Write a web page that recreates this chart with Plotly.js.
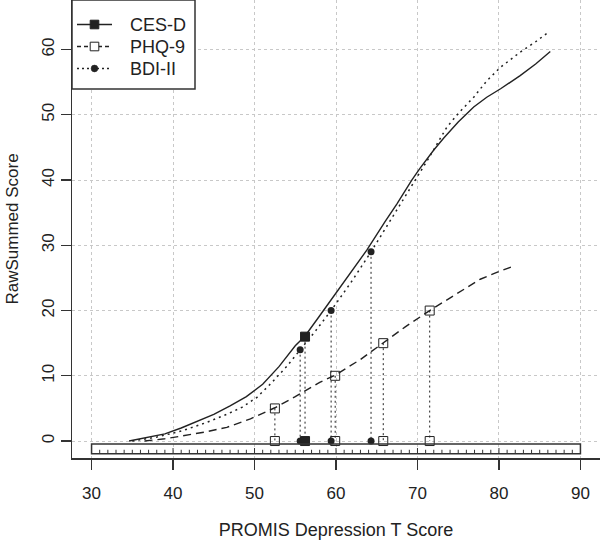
<!DOCTYPE html>
<html>
<head>
<meta charset="utf-8">
<script src="https://cdn.plot.ly/plotly-3.0.1.min.js"></script>
<style>
  html, body { margin: 0; padding: 0; background: #fff; }
  #chart { width: 600px; height: 547px; }
</style>
</head>
<body>
<div id="chart"></div>
<script>
// ---- Data ----
var cesdCurveX = [34.6, 37, 39, 41, 43, 45, 47, 49, 51, 53, 55, 56.2, 58, 60, 62, 63.8, 66, 67.5, 69.3, 70.3, 72, 73.2, 75, 76.9, 78.5, 80.2, 82.6, 84.5, 86.3];
var cesdCurveY = [0, 0.55, 1.1, 2.0, 3.0, 4.1, 5.4, 6.8, 8.7, 11.4, 14.6, 16.1, 19.2, 22.7, 26.3, 29.3, 33.6, 36.4, 40.0, 41.8, 44.6, 46.4, 48.9, 51.2, 52.7, 54.0, 56.0, 57.8, 59.7];

var phqCurveX = [36.5, 39, 41.2, 44, 46.6, 49.5, 52.5, 55, 58, 59.9, 63, 65.8, 68.5, 71.5, 74.9, 77.7, 80, 81.8];
var phqCurveY = [0, 0.35, 0.8, 1.4, 2.1, 3.4, 5.1, 6.8, 9.0, 10.1, 12.5, 15.1, 17.5, 20.0, 22.7, 24.8, 26.0, 26.8];

var bdiCurveX = [35, 38, 41.2, 44, 46.6, 48.5, 50.3, 52, 54, 55.6, 57.5, 59.4, 62, 64.3, 67, 69.7, 71.5, 73.6, 75, 76.9, 78.5, 80.2, 82.6, 84.5, 85.9];
var bdiCurveY = [0, 0.6, 1.6, 2.8, 4.1, 5.2, 6.7, 8.8, 11.5, 13.9, 16.9, 20.0, 24.6, 29.0, 34.5, 40.0, 43.6, 48.1, 50.2, 52.7, 55.2, 57.3, 59.6, 61.2, 62.5];

// marked cut points (raw score vs T score)
var cesdMarkX = [56.2];
var cesdMarkY = [16];
var phqMarkX = [52.5, 59.9, 65.8, 71.5];
var phqMarkY = [5, 10, 15, 20];
var bdiMarkX = [55.6, 59.4, 64.3];
var bdiMarkY = [14, 20, 29];

var seriesNames = ['CES-D', 'PHQ-9', 'BDI-II'];
var xTicks = [30, 40, 50, 60, 70, 80, 90];
var yTicks = [0, 10, 20, 30, 40, 50, 60];

// ---- helpers ----
function dropLines(xs, ys) {
  var x = [], y = [];
  for (var i = 0; i < xs.length; i++) {
    x.push(xs[i], xs[i], null);
    y.push(ys[i], 0, null);
  }
  return {x: x, y: y};
}

var INK = '#222';
var LINE = '#333';
var FONT = 'Liberation Sans, Arial, sans-serif';

var M = {l: 72, r: 0, t: 0, b: 89};
var W = 600, H = 547;
var PW = W - M.l - M.r, PH = H - M.t - M.b;
function px2x(px) { return (px - M.l) / PW; }
function py2y(py) { return 1 - (py - M.t) / PH; }

var cesdDrop = dropLines(cesdMarkX, cesdMarkY);
var phqDrop = dropLines(phqMarkX, phqMarkY);
var bdiDrop = dropLines(bdiMarkX, bdiMarkY);

var sqFilled = {symbol: 'square', size: 9, color: INK, line: {color: INK, width: 1}};
var sqOpen = {symbol: 'square-open', size: 9, color: INK, line: {color: INK, width: 1}};
var circ = {symbol: 'circle', size: 7, color: INK, line: {color: INK, width: 0}};

// ruler ticks inside the bottom bar (decorative scale)
var rulerBottom = -1.94, rulerTop = -0.46;
var rx = [], ry = [];
for (var t = xTicks[0] + 1; t < xTicks[xTicks.length - 1]; t++) {
  var major = (t % 10 === 0);
  rx.push(t, t, null);
  ry.push(rulerBottom, rulerBottom + (major ? 0.87 : 0.6), null);
}

var traces = [
  {x: phqDrop.x, y: phqDrop.y, mode: 'lines', line: {color: INK, width: 1, dash: '2px,3px'}, showlegend: false, hoverinfo: 'skip'},
  {x: bdiDrop.x, y: bdiDrop.y, mode: 'lines', line: {color: INK, width: 1, dash: '2px,3px'}, showlegend: false, hoverinfo: 'skip'},
  {x: cesdDrop.x, y: cesdDrop.y, mode: 'lines', line: {color: INK, width: 1, dash: '2px,3px'}, showlegend: false, hoverinfo: 'skip'},
  {x: cesdCurveX, y: cesdCurveY, name: seriesNames[0], mode: 'lines', line: {color: INK, width: 1.4}, showlegend: false},
  {x: phqCurveX, y: phqCurveY, name: seriesNames[1], mode: 'lines', line: {color: INK, width: 1.4, dash: '8px,5px'}, showlegend: false},
  {x: bdiCurveX, y: bdiCurveY, name: seriesNames[2], mode: 'lines', line: {color: INK, width: 1.5, dash: '2px,4px'}, showlegend: false},
  {x: rx, y: ry, mode: 'lines', line: {color: LINE, width: 1}, showlegend: false, hoverinfo: 'skip'},
  {x: phqDrop.x, y: phqDrop.y, mode: 'markers', marker: sqOpen, showlegend: false},
  {x: bdiDrop.x, y: bdiDrop.y, mode: 'markers', marker: circ, showlegend: false},
  {x: cesdDrop.x, y: cesdDrop.y, mode: 'markers', marker: sqFilled, showlegend: false}
];

// ---- legend box drawn at the top-left corner (R style) ----
var legRows = [24.5, 46.5, 68.5];
var legDash = ['solid', '4px,3px', '2px,3px'];
var legSym = ['sqFilled', 'sqOpen', 'circ'];
var shapes = [
  {type: 'rect', xref: 'x', yref: 'y', x0: xTicks[0], x1: xTicks[xTicks.length - 1], y0: rulerBottom, y1: rulerTop,
   line: {color: LINE, width: 1.5}, fillcolor: 'rgba(0,0,0,0)', layer: 'above'},
  {type: 'rect', xref: 'paper', yref: 'paper', x0: px2x(72), x1: px2x(195), y0: py2y(89), y1: py2y(0),
   line: {color: LINE, width: 1.5}, fillcolor: '#fff', layer: 'above'}
];
var annotations = [];
for (var i = 0; i < seriesNames.length; i++) {
  var ry0 = legRows[i];
  shapes.push({type: 'line', xref: 'paper', yref: 'paper', x0: px2x(77), x1: px2x(112), y0: py2y(ry0), y1: py2y(ry0),
               line: {color: INK, width: 1.4, dash: legDash[i]}, layer: 'above'});
  var cx = 94.5;
  if (legSym[i] === 'circ') {
    shapes.push({type: 'circle', xref: 'paper', yref: 'paper', x0: px2x(cx - 3.4), x1: px2x(cx + 3.4), y0: py2y(ry0 + 3.4), y1: py2y(ry0 - 3.4),
                 line: {color: INK, width: 0.5}, fillcolor: INK, layer: 'above'});
  } else {
    shapes.push({type: 'rect', xref: 'paper', yref: 'paper', x0: px2x(cx - 4.3), x1: px2x(cx + 4.3), y0: py2y(ry0 + 4.3), y1: py2y(ry0 - 4.3),
                 line: {color: INK, width: 1}, fillcolor: legSym[i] === 'sqFilled' ? INK : '#fff', layer: 'above'});
  }
  annotations.push({xref: 'paper', yref: 'paper', x: px2x(128), y: py2y(ry0 + 0.5), xanchor: 'left', yanchor: 'middle',
                    text: seriesNames[i], showarrow: false, font: {family: FONT, size: 18, color: INK}});
}

var axisCommon = {
  showline: true, linecolor: LINE, linewidth: 1.5, mirror: true,
  ticks: 'outside', ticklen: 10, tickwidth: 1.3, tickcolor: LINE,
  showgrid: true, gridcolor: '#c8c8c8', gridwidth: 1, griddash: 'dot',
  zeroline: false, tickfont: {family: FONT, size: 17, color: INK},
  automargin: false
};

var layout = {
  width: W, height: H,
  margin: M,
  paper_bgcolor: '#fff', plot_bgcolor: '#fff',
  font: {family: FONT, size: 17, color: INK},
  xaxis: Object.assign({}, axisCommon, {
    range: [27.6, 92.4], tickvals: xTicks, ticktext: xTicks.map(String),
    ticklabelstandoff: 9,
    title: {text: 'PROMIS Depression T Score', font: {size: 18, color: INK}, standoff: 21}
  }),
  yaxis: Object.assign({}, axisCommon, {
    range: [-2.6, 67.6], tickvals: yTicks, ticktext: yTicks.map(String),
    tickangle: -90, ticklabelstandoff: 0,
    title: {text: 'RawSummed Score', font: {size: 17, color: INK}, standoff: 16}
  }),
  shapes: shapes,
  annotations: annotations,
  showlegend: false
};

Plotly.newPlot('chart', traces, layout, {staticPlot: true, displayModeBar: false});
</script>
</body>
</html>
